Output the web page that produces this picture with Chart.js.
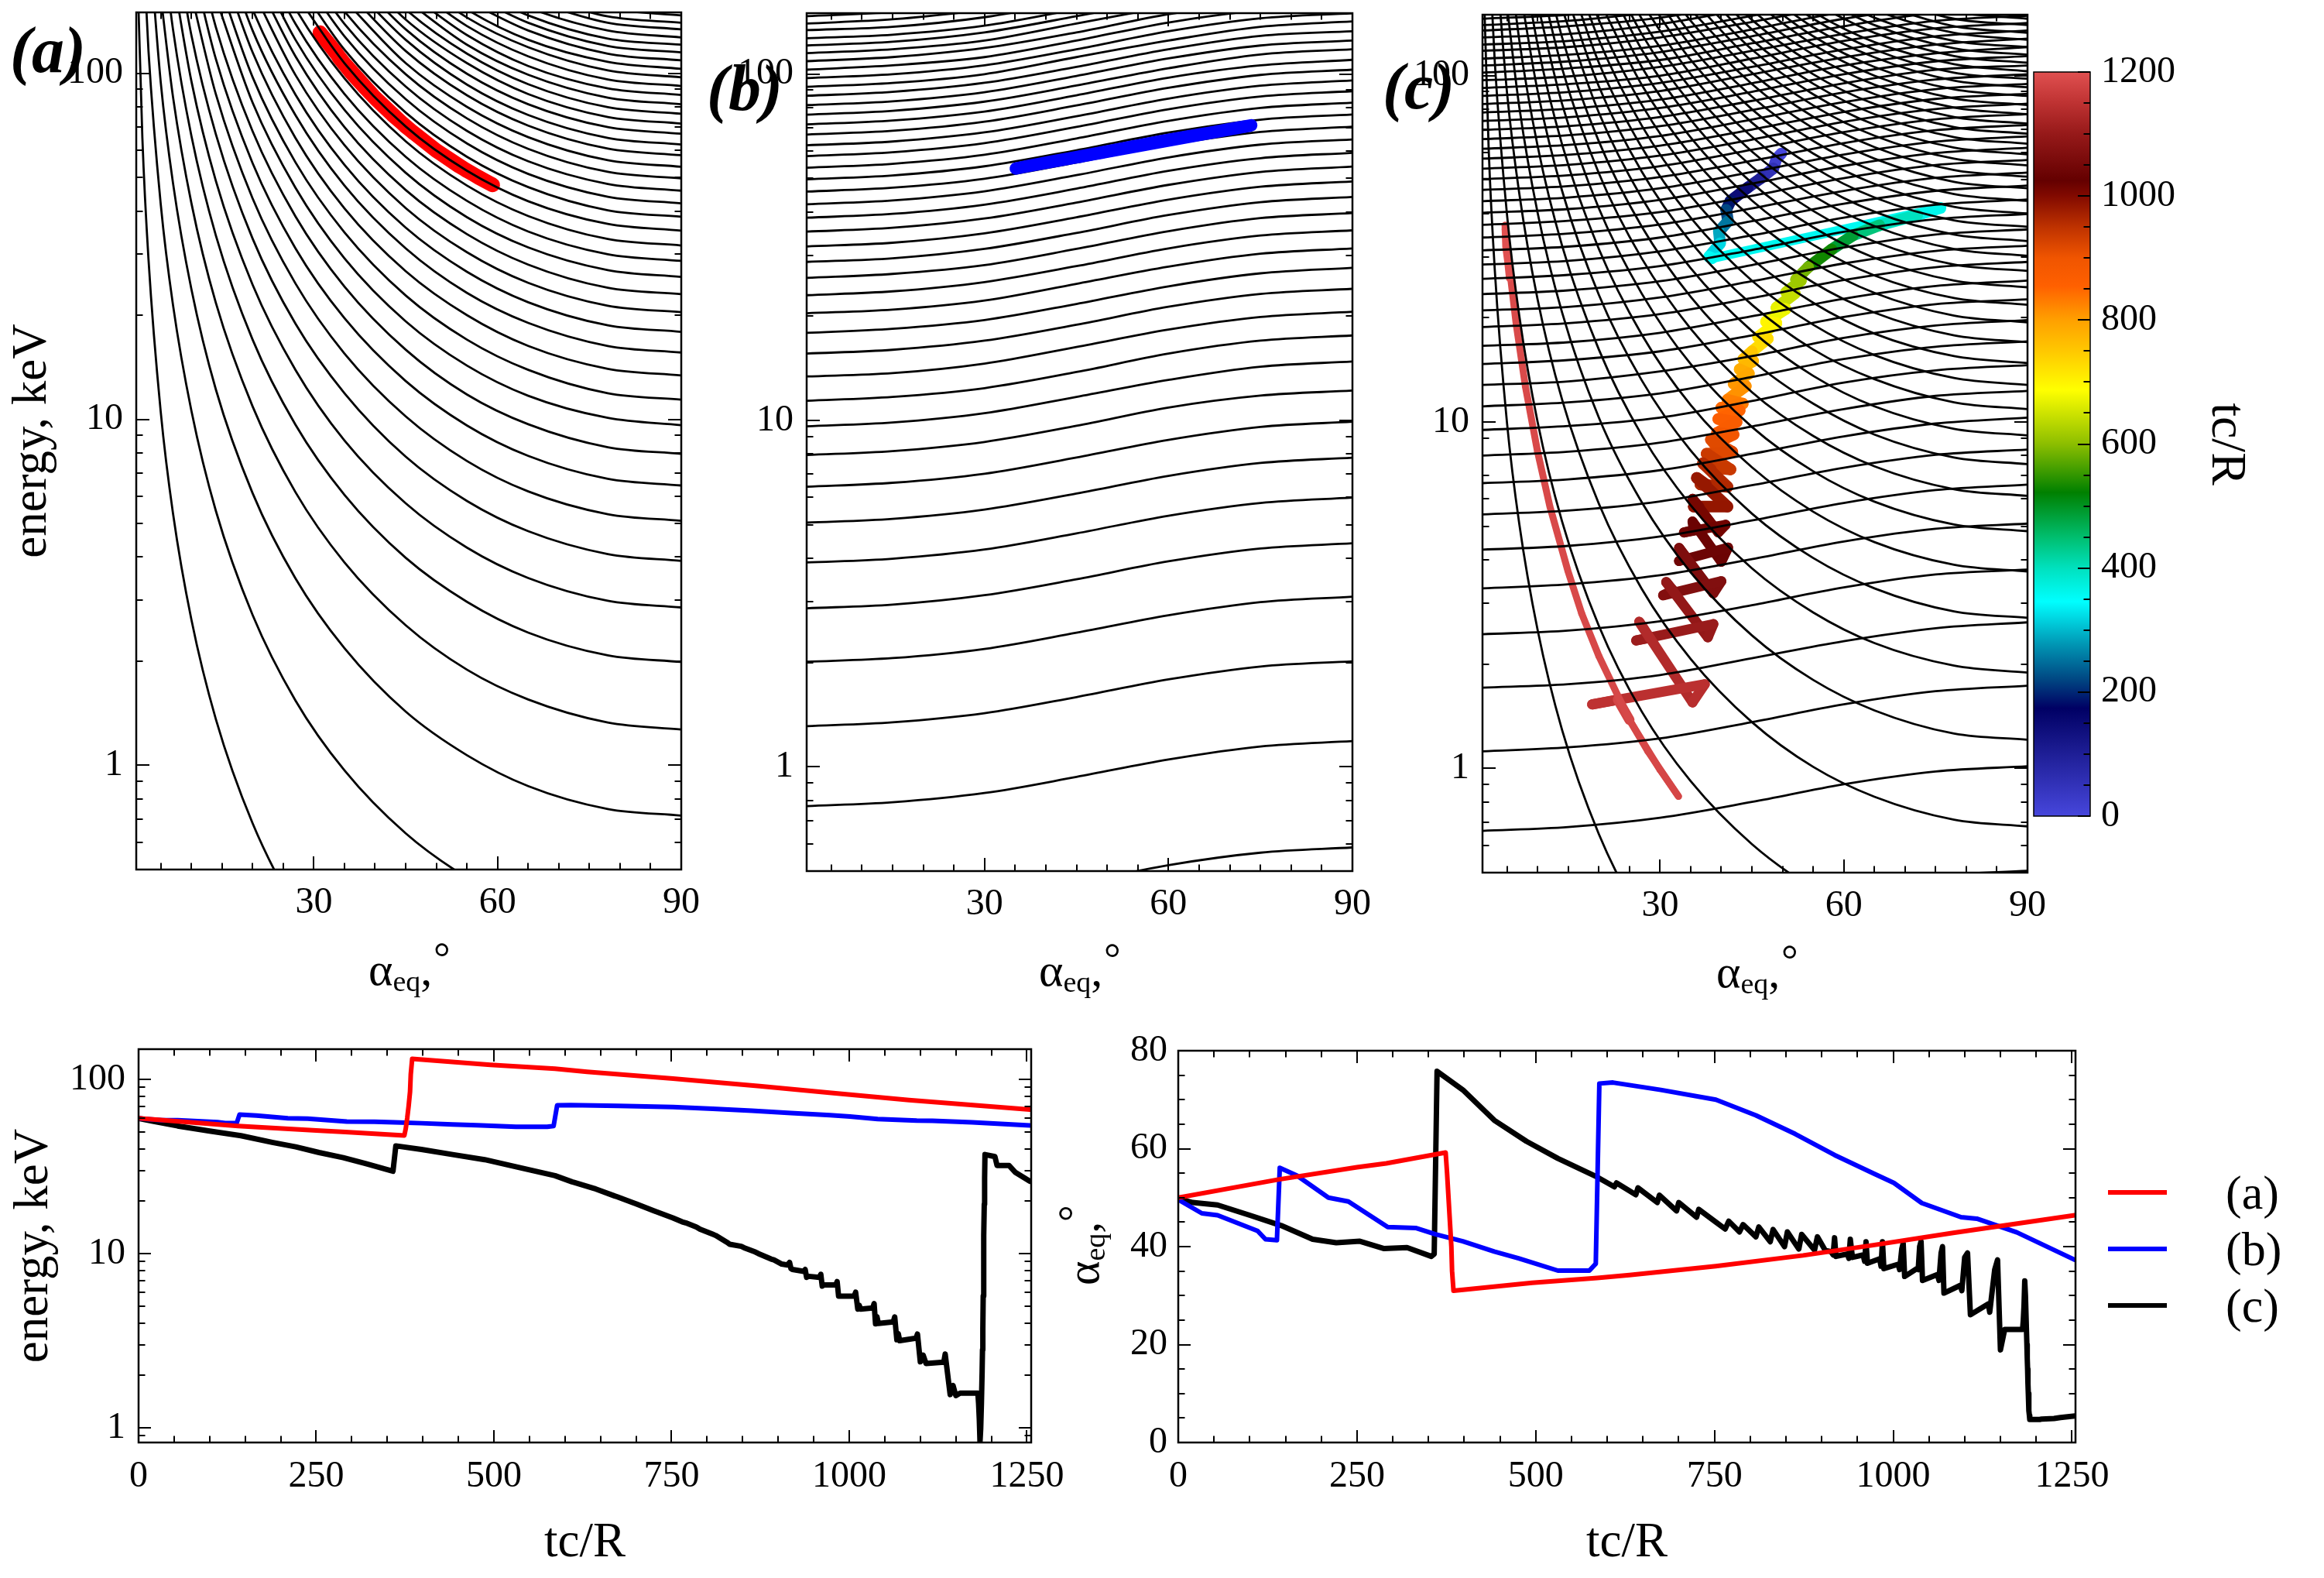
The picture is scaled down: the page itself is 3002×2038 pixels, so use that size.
<!DOCTYPE html>
<html>
<head>
<meta charset="utf-8">
<title>energy and pitch angle</title>
<script src="https://cdn.jsdelivr.net/npm/chart.js@4/dist/chart.umd.min.js"></script>
<style>
body { margin: 0; background: #fff; }
#page { position: relative; width: 3002px; height: 2038px; overflow: hidden; }
canvas { position: absolute; }
.t { position: absolute; font-family: "Liberation Serif"; line-height: 1; white-space: nowrap; color: #000; }
.panel { font: italic bold 84px/1 "Liberation Serif"; }
.al { font-size: 60px; }
.al .eq { font-size: 38px; position: relative; top: 8px; }
.al .ring { position: absolute; font-size: 54px; }
.leg { font-size: 62px; }
.swatch { position: absolute; width: 76px; height: 6px; }
</style>
</head>
<body>
<div id="page">
  <canvas id="panelA" width="905" height="1300" style="left:0;top:0"></canvas>
  <canvas id="panelB" width="875" height="1300" style="left:905px;top:0"></canvas>
  <canvas id="panelC" width="860" height="1300" style="left:1790px;top:0"></canvas>
  <canvas id="colorBar" width="320" height="1100" style="left:2600px;top:0"></canvas>
  <canvas id="panelE" width="1380" height="738" style="left:0;top:1300px"></canvas>
  <canvas id="panelP" width="1400" height="738" style="left:1380px;top:1300px"></canvas>

  <div class="t panel" style="left:13px;top:23px">(a)</div>
  <div class="t panel" style="left:913px;top:72px">(b)</div>
  <div class="t panel" style="left:1786px;top:70px">(c)</div>

  <div class="t al" style="left:476px;top:1222px">α<span class="eq">eq</span>,<span class="ring" style="left:84px;top:-12px">°</span></div>
  <div class="t al" style="left:1342px;top:1223px">α<span class="eq">eq</span>,<span class="ring" style="left:84px;top:-12px">°</span></div>
  <div class="t al" style="left:2217px;top:1225px">α<span class="eq">eq</span>,<span class="ring" style="left:84px;top:-12px">°</span></div>
  <div class="t al" style="left:1369px;top:1660px;transform:rotate(-90deg);transform-origin:left top">α<span class="eq">eq</span>,<span class="ring" style="left:82px;top:-9px">°</span></div>

  <div class="swatch" style="left:2723px;top:1537px;background:#f00"></div>
  <div class="swatch" style="left:2723px;top:1610px;background:#00f"></div>
  <div class="swatch" style="left:2723px;top:1683px;background:#000"></div>
  <div class="t leg" style="left:2875px;top:1509px">(a)</div>
  <div class="t leg" style="left:2875px;top:1582px">(b)</div>
  <div class="t leg" style="left:2875px;top:1655px">(c)</div>
</div>

<script>
// falling contours of (a), energy in keV, each row read from 90 deg leftward along fallAlpha
const fallAlpha = [90, 78, 65, 55, 45, 35, 27, 20, 14, 10, 7, 5, 3, 2, 1];
const curvesA = [
  [.0795,.083,.097,.118,.159,.242,.386,.68,1.36,2.64,5.35,10.5,29,65,261],
  [.318,.332,.387,.474,.636,.967,1.54,2.72,5.44,10.6,21.4,41.8,116,261],
  [.716,.748,.871,1.07,1.43,2.18,3.47,6.12,12.2,23.8,48.2,94.2,261],
  [1.27,1.33,1.55,1.89,2.54,3.86,6.16,10.9,21.7,42.2,85.5,167],
  [1.99,2.08,2.42,2.97,3.98,6.05,9.65,17,34,66,134,262],
  [2.86,2.99,3.48,4.26,5.72,8.69,13.9,24.5,48.9,95,192],
  [3.9,4.08,4.75,5.81,7.8,11.9,18.9,33.3,66.7,129,262],
  [5.09,5.32,6.19,7.58,10.2,15.5,24.7,43.5,87,169],
  [6.44,6.73,7.84,9.6,12.9,19.6,31.2,55,110,214],
  [7.95,8.31,9.68,11.8,15.9,24.2,38.6,68,136,264],
  [9.62,10.1,11.7,14.3,19.2,29.2,46.7,82.3,165],
  [11.4,11.9,13.9,17,22.8,34.7,55.3,97.5,195],
  [13.4,14,16.3,20,26.8,40.7,65,115,229],
  [15.6,16.3,19,23.2,31.2,47.4,75.7,133,267],
  [17.9,18.7,21.8,26.7,35.8,54.4,86.8,153,306],
  [20.4,21.3,24.8,30.4,40.8,62,98.9,174],
  [23,24,28,34.3,46,69.9,112,197],
  [25.8,27,31.4,38.4,51.6,78.4,125,221],
  [28.7,30,34.9,42.8,57.4,87.2,139,245],
  [31.8,33.2,38.7,47.4,63.6,96.7,154,272],
  [35.1,36.7,42.7,52.3,70.2,107,170],
  [38.5,40.2,46.9,57.4,77,117,187],
  [42.1,44,51.2,62.7,84.2,128,204],
  [45.8,47.9,55.7,68.2,91.6,139,222],
  [49.7,51.9,60.5,74.1,99.4,151,241],
  [53.7,56.1,65.4,80,107,163],
  [58,60.6,70.6,86.4,116,176],
  [62.3,65.1,75.8,92.8,125,189],
  [66.9,69.9,81.4,99.7,134,203],
  [71.6,74.8,87.1,107,143,218],
  [76.4,79.8,93,114,153,232],
  [81.4,85.1,99.1,121,163],
  [86.6,90.5,105,129,173],
  [91.9,96,112,137,184],
  [97.4,102,119,145,195],
  [103,108,125,153,206],
  [109,114,133,162],
  [115,120,140,171],
  [121,126,147,180],
  [127,133,155,189],
  [134,140,163],
  [140,146,170],
  [147,154,179]
];

// rising contours of (b), each row read from the left edge along riseAlpha
const riseAlpha = [1, 15, 30, 45, 60, 75, 90];
const curvesB = [
  [.38,.39,.41,.46,.52,.565,.585],
  [.77,.79,.84,.935,1.05,1.145,1.186],
  [1.31,1.344,1.428,1.59,1.788,1.948,2.017],
  [2.01,2.06,2.19,2.44,2.74,2.99,3.1],
  [2.87,2.94,3.13,3.48,3.92,4.27,4.42],
  [3.89,3.99,4.24,4.72,5.31,5.78,5.99],
  [5.07,5.2,5.53,6.15,6.92,7.54,7.81],
  [6.44,6.61,7.02,7.82,8.79,9.58,9.92],
  [7.95,8.16,8.67,9.65,10.9,11.8,12.2],
  [9.62,9.87,10.5,11.7,13.1,14.3,14.8],
  [11.4,11.7,12.4,13.8,15.6,17,17.6],
  [13.4,13.7,14.6,16.3,18.3,19.9,20.6],
  [15.6,16,17,18.9,21.3,23.2,24],
  [17.9,18.4,19.5,21.7,24.4,26.6,27.6],
  [20.4,20.9,22.2,24.8,27.8,30.3,31.4],
  [23,23.6,25.1,27.9,31.4,34.2,35.4],
  [25.8,26.5,28.1,31.3,35.2,38.4,39.7],
  [28.7,29.4,31.3,34.8,39.2,42.7,44.2],
  [31.8,32.6,34.7,38.6,43.4,47.3,49],
  [35.1,36,38.3,42.6,47.9,52.2,54.1],
  [38.5,39.5,42,46.7,52.6,57.2,59.3],
  [42.1,43.2,45.9,51.1,57.5,62.6,64.8],
  [45.8,47,49.9,55.6,62.5,68.1,70.5],
  [49.7,51,54.2,60.3,67.8,73.9,76.5],
  [53.7,55.1,58.5,65.2,73.3,79.9,82.7],
  [58,59.5,63.2,70.4,79.2,86.2,89.3],
  [62.3,63.9,67.9,75.6,85,92.6,95.9],
  [66.9,68.6,72.9,81.2,91.3,99.5,103],
  [71.6,73.5,78,86.9,97.7,106,110],
  [76.4,78.4,83.3,92.7,104,114,118],
  [81.4,83.5,88.7,98.8,111,121,125],
  [86.6,88.9,94.4,105,118,129,133],
  [91.9,94.3,100,112,125,137,142],
  [97.4,99.9,106,118,133,145,150],
  [103,106,112,125,141,153,159],
  [109,112,119,132,149,162],
  [115,118,125,140,157],
  [121,124,132,147,165],
  [127,130,138,154],
  [134,137,146,163],
  [140,144,153],
  [147,151,160]
];

// (c) falling family, same columns as (a)
const curvesCFall = [
  [.0756,.079,.092,.113,.151,.23,.367,.646,1.29,2.51,5.09,9.95,27.6,62,248],
  [.302,.316,.368,.45,.604,.918,1.46,2.58,5.16,10,20.3,39.7,110,248],
  [.68,.711,.828,1.01,1.36,2.07,3.3,5.81,11.6,22.6,45.8,89.5,248],
  [1.21,1.26,1.47,1.8,2.42,3.68,5.87,10.3,20.7,40.2,81.4,159],
  [1.89,1.98,2.3,2.82,3.78,5.75,9.17,16.2,32.3,62.7,127,249],
  [2.72,2.84,3.31,4.05,5.44,8.27,13.2,23.3,46.5,90.3,183],
  [3.7,3.87,4.5,5.51,7.4,11.2,17.9,31.6,63.3,123,249],
  [4.84,5.06,5.89,7.21,9.68,14.7,23.5,41.4,82.8,161],
  [6.12,6.4,7.45,9.12,12.2,18.6,29.7,52.3,105,203],
  [7.56,7.9,9.2,11.3,15.1,23,36.7,64.6,129,251],
  [9.15,9.56,11.1,13.6,18.3,27.8,44.4,78.2,156],
  [10.9,11.4,13.3,16.2,21.8,33.1,52.9,93.2,186],
  [12.8,13.4,15.6,19.1,25.6,38.9,62.1,109,219],
  [14.8,15.5,18,22.1,29.6,45,71.8,127,253],
  [17,17.8,20.7,25.3,34,51.7,82.5,145,291],
  [19.4,20.3,23.6,28.9,38.8,59,94.1,166],
  [21.8,22.8,26.5,32.5,43.6,66.3,106,186],
  [24.5,25.6,29.8,36.5,49,74.5,119,209],
  [27.3,28.5,33.2,40.7,54.6,83,132,233],
  [30.2,31.6,36.8,45,60.4,91.8,146,258],
  [33.3,34.8,40.5,49.6,66.6,101,162],
  [36.6,38.2,44.5,54.5,73.2,111,178],
  [40,41.8,48.7,59.6,80,122,194],
  [43.5,45.5,52.9,64.8,87,132,211],
  [47.3,49.4,57.6,70.5,94.6,144,229],
  [51.1,53.4,62.2,76.1,102,155],
  [55.1,57.6,67.1,82.1,110,168],
  [59.3,62,72.2,88.4,119,180],
  [63.6,66.5,77.4,94.8,127,193],
  [68,71.1,82.8,101,136,207],
  [72.7,76,88.5,108,145,221],
  [77.4,80.9,94.2,115,155,235],
  [82.3,86,100,123,165],
  [87.4,91.3,106,130,175],
  [92.6,96.8,113,138,185],
  [98,102,119,146,196],
  [103,108,125,153,206],
  [109,114,133,162],
  [115,120,140,171],
  [121,126,147,180],
  [127,133,155,189],
  [133,139,162],
  [140,146,170],
  [146,153,178]
];

// (c) rising family, same columns as (b)
const curvesCRise = [
  [.33,.339,.36,.4,.45,.49,.506],
  [.66,.677,.72,.8,.9,.98,1.014],
  [1.12,1.15,1.22,1.36,1.53,1.67,1.733],
  [1.71,1.75,1.86,2.08,2.33,2.54,2.64],
  [2.44,2.5,2.66,2.96,3.33,3.63,3.75],
  [3.31,3.4,3.61,4.02,4.52,4.92,5.09],
  [4.28,4.39,4.67,5.2,5.84,6.36,6.6],
  [5.41,5.55,5.9,6.57,7.38,8.04,8.33],
  [6.66,6.83,7.26,8.09,9.09,9.9,10.3],
  [8,8.21,8.72,9.71,10.9,11.9,12.3],
  [9.49,9.74,10.3,11.5,13,14.1,14.6],
  [11.1,11.4,12.1,13.5,15.2,16.5,17.1],
  [12.8,13.1,14,15.5,17.5,19,19.7],
  [14.7,15.1,16,17.8,20.1,21.9,22.6],
  [16.6,17,18.1,20.2,22.7,24.7,25.6],
  [18.8,19.3,20.5,22.8,25.7,28,29],
  [21,21.5,22.9,25.5,28.7,31.2,32.3],
  [23.4,24,25.5,28.4,31.9,34.8,36],
  [25.9,26.6,28.2,31.4,35.4,38.5,39.9],
  [28.5,29.2,31.1,34.6,38.9,42.4,43.9],
  [31.3,32.1,34.1,38,42.7,46.5,48.2],
  [34.1,35,37.2,41.4,46.5,50.7,52.5],
  [37.1,38.1,40.4,45,50.6,55.2,57.1],
  [40.2,41.2,43.8,48.8,54.9,59.8,61.9],
  [43.4,44.5,47.3,52.7,59.2,64.5,66.8],
  [46.8,48,51,56.8,63.9,69.6,72.1],
  [50.3,51.6,54.8,61.1,68.7,74.8,77.5],
  [53.9,55.3,58.8,65.4,73.6,80.1,83],
  [57.6,59.1,62.8,69.9,78.6,85.7,88.7],
  [61.5,63.1,67,74.7,83.9,91.5,94.7],
  [65.6,67.3,71.5,79.6,89.5,97.5,101],
  [69.7,71.5,76,84.6,95.1,104,107],
  [74,75.9,80.7,89.8,101,110,114],
  [78.3,80.3,85.3,95.1,107,116,121],
  [82.8,85,90.3,101,113,123,128],
  [87.4,89.7,95.3,106,119,130,135],
  [92.2,94.6,100,112,126,137,142],
  [97,99.5,106,118,132,144,149],
  [102,105,111,124,139,152,157],
  [107,110,117,130,146,159],
  [112,115,122,136,153,167],
  [118,121,129,143,161],
  [123,126,134,149,168],
  [129,132,141,157],
  [135,139,147,164],
  [140,144,153],
  [146,150,159],
  [153,157,167]
];

// trajectory (a): time, energy keV, alpha deg
const redT = [0,140,250,291,374,376,378,380,382,383,385,495,586,631,752,874,972,1084,1254];
const redE = [59.8,54,50.9,49.9,47.6,52.3,59.8,70.2,85,106.7,131,121,115,110.5,101,91.5,83.7,76,67];
const redA = [50,53.7,56.2,57,59.2,55,50,45,40,35,31,32.6,33.6,34.2,36,38.2,40.3,42.8,46.4];

// trajectory (b)
const blueT = [0,33,55,111,122,138,142,166,210,238,293,332,360,398,442,476,531,575,584,589,608,675,752,808,863,918,973,1001,1040,1095,1117,1173,1254];
const blueE = [59.6,58.3,58.2,56.8,56.1,56,62.7,62,59.8,59.4,57.2,57.1,56.6,56,55.1,54.5,53.4,53.4,54,71,71.2,70.4,69.4,67.8,66,64,62.2,61.2,59.2,58,57.8,56.7,54.4];
const blueA = [49.6,46.8,46.4,43.2,41.5,41.3,56.1,54.5,50,49.2,44,43.8,42.5,41.1,39,37.6,35.1,35.1,36.5,73.3,73.5,72,70,66.8,63,58.7,54.9,53,48.9,46,45.7,42.9,37.3];

// trajectory (c)
const blackT = [0,20,55,100,144,188,221,254,288,320,354,358,362,398,442,487,531,586,
  610,613,640,643,670,673,697,700,725,728,752,
  765,770,785,790,808,812,828,832,848,852,868,872,890,894,905,913,916,918,920,936,938,940,943,958,960,962,964,981,983,985,987,1007,1009,1012,1014,1016,1033,1035,1037,1039,1041,1062,1064,1067,1069,1071,1094,1096,1100,1104,1108,1133,1135,1142,1146,1150,1156,1181,
  1182,1183,1184,1185,1186,1187,1187.5,1188,1188.5,1189,1189.5,1190,1190.5,1191,1205,1208,1225,1234,1254];
const blackE = [59.6,57.5,54,50.5,47.5,43.5,41,38,35.5,32.8,30,29.7,41.5,39.6,37,34.6,31.5,28,
  25.8,25.6,23.7,23.5,21.4,21.2,19.5,19.3,17.6,17.4,16,
  15.2,15,14.2,13.8,12.9,12.7,11.6,11.3,11,10.8,10.2,10,9.3,9.2,8.7,8.6,8.9,8.2,8.1,7.9,8.1,7.3,7.4,7.3,7.6,6.5,6.6,6.6,6.9,5.7,5.7,5.7,6,4.8,5.05,4.8,4.87,5.16,3.95,4.34,3.97,4.05,4.33,3.2,3.47,3.16,3.27,3.45,2.39,2.61,2.34,2.38,2.65,1.55,1.75,1.53,1.58,1.58,
  1.38,1.12,.83,.99,1.38,2.11,2.8,3.69,5.71,8.2,12.7,19.2,27,37,36,32,32,29.2,26];
const blackA = [49.8,49,48.5,46.4,44.3,41.5,40.8,41.1,39.6,39.8,38,38.5,75.8,72,65.8,61.5,58,54.2,
  52.2,53,50.6,52,49,50.5,47.3,49,46,47.6,45,
  43.6,45.2,43,44.5,42,44,41,43.5,40,43,39.5,42.5,39.3,42,39.2,39,38.3,41.8,38,38.5,37.6,41.5,37.8,38.3,37,41,36.6,37.5,36,41,35.5,36.4,35.3,39.5,40.7,33.9,35.5,35.3,40,41.1,33.1,34.3,33.1,38.7,40,30.5,32.1,31,37.8,38.7,26.1,28.3,26.6,35.3,37.3,18.9,23.1,23.1,
  25,28,33,30,25,20,17.2,15,12,10,8,6.5,5.5,4.7,4.7,4.8,4.9,5.1,5.4];

// colour bar knots: tc/R value and colour
const cbValues = [0,100,174,220,277,346,400,450,522,600,687,750,800,855,900,950,1000,1025,1100,1150,1200];
const cbColors = [[70,70,220],[30,30,150],[0,0,100],[0,70,130],[0,150,180],[0,255,255],[0,225,190],[0,190,110],[0,128,0],[140,190,0],[255,255,0],[255,200,0],[255,160,0],[255,96,0],[240,85,0],[190,50,0],[130,10,0],[100,0,0],[150,25,25],[190,50,50],[224,80,80]];

// tick labels and tick marks
const alphaMajor = [30,60,90];
const alphaMinor = [5,10,15,20,25,35,40,45,50,55,65,70,75,80,85];
const energyMajor = [1,10,100];
const energyMinor = [.6,.7,.8,.9,2,3,4,5,6,7,8,9,20,30,40,50,60,70,80,90];
const timeMajor = [0,250,500,750,1000,1250];
const timeMinor = [50,100,150,200,300,350,400,450,550,600,650,700,800,850,900,950,1050,1100,1150,1200];
const pitchMajor = [0,20,40,60,80];
const pitchMinor = [5,10,15,25,30,35,45,50,55,65,70,75];
const barMajor = [0,200,400,600,800,1000,1200];
const barMinor = [50,100,150,250,300,350,450,500,550,650,700,750,850,900,950,1050,1100,1150];

const serif = 'Liberation Serif';

function cmap(v) {
  let i = 0;
  while (i < cbValues.length - 2 && v > cbValues[i + 1]) i++;
  const f = Math.min(1, (v - cbValues[i]) / (cbValues[i + 1] - cbValues[i]));
  const c = cbColors[i].map((a, k) => Math.round(a + (cbColors[i + 1][k] - a) * f));
  return `rgb(${c[0]},${c[1]},${c[2]})`;
}

function insideTicks(t) {
  return {
    id: 'insideTicks',
    afterDraw(chart) {
      const { ctx, chartArea: a, scales } = chart;
      const lenA = t.major || 17, lenB = t.minor || 8.5;
      ctx.save();
      ctx.strokeStyle = '#000';
      ctx.lineWidth = 2;
      const yTick = (v, len) => {
        if (v < scales.y.min || v > scales.y.max) return;
        const p = Math.round(scales.y.getPixelForValue(v));
        ctx.beginPath();
        if (!t.rightOnly) { ctx.moveTo(a.left, p); ctx.lineTo(a.left + len, p); }
        ctx.moveTo(a.right, p); ctx.lineTo(a.right - len, p);
        ctx.stroke();
      };
      (t.yMajor || []).forEach(v => yTick(v, lenA));
      (t.yMinor || []).forEach(v => yTick(v, lenB));
      const xTick = (v, len) => {
        const p = Math.round(scales.x.getPixelForValue(v));
        ctx.beginPath();
        ctx.moveTo(p, a.bottom); ctx.lineTo(p, a.bottom - len);
        ctx.moveTo(p, a.top); ctx.lineTo(p, a.top + len);
        ctx.stroke();
      };
      (t.xMajor || []).forEach(v => xTick(v, lenA));
      (t.xMinor || []).forEach(v => xTick(v, lenB));
      ctx.lineWidth = t.frame || 2.5;
      ctx.strokeRect(a.left, a.top, a.right - a.left, a.bottom - a.top);
      ctx.restore();
    }
  };
}

function pts(xs, ys) {
  return ys.map((y, i) => ({ x: xs[i], y }));
}

function contour(cols, row) {
  return {
    data: pts(cols, row).sort((p, q) => p.x - q.x),
    borderColor: '#000', borderWidth: 2.8, pointRadius: 0,
    cubicInterpolationMode: 'monotone', order: 0
  };
}

function trace(xs, ys, color, width, order) {
  return {
    data: pts(xs, ys), borderColor: color, borderWidth: width, pointRadius: 0,
    borderCapStyle: 'round', borderJoinStyle: 'round', order
  };
}

function axisX(box, area, min, max, labels, padding, title) {
  return {
    type: 'linear', min, max,
    grid: { display: false, drawTicks: false }, border: { display: false },
    afterBuildTicks: s => { s.ticks = labels.map(value => ({ value })); },
    afterFit: s => {
      s.height = box.h - area.b;
      s.paddingLeft = s.paddingRight = 0;
    },
    ticks: { autoSkip: false, maxRotation: 0, padding, color: '#000', font: { family: serif, size: 48 }, callback: v => v },
    title: title ? { display: true, text: title, color: '#000', font: { family: serif, size: 63 }, padding: { top: 0, bottom: 7 } } : { display: false }
  };
}

function axisY(type, box, area, min, max, labels, padding, title, titlePad) {
  return {
    type, min, max,
    grid: { display: false, drawTicks: false }, border: { display: false },
    afterBuildTicks: s => { s.ticks = labels.map(value => ({ value })); },
    afterFit: s => {
      s.width = area.l;
      s.paddingTop = s.paddingBottom = 0;
    },
    ticks: { autoSkip: false, padding, color: '#000', font: { family: serif, size: 48 }, callback: v => v },
    title: title ? { display: true, text: title, color: '#000', font: { family: serif, size: 63 }, padding: { top: titlePad, bottom: 0 } } : { display: false }
  };
}

function panel(id, box, area, x, y, datasets, ticks) {
  return new Chart(document.getElementById(id), {
    type: 'line',
    data: { datasets },
    options: {
      responsive: false, animation: false, devicePixelRatio: 1,
      layout: { padding: { top: area.t, right: box.w - area.r, left: 0, bottom: 0 } },
      plugins: { legend: { display: false }, tooltip: { enabled: false } },
      elements: { line: { tension: 0 } },
      scales: { x, y }
    },
    plugins: [insideTicks(ticks)]
  });
}

const topTicks = { xMajor: alphaMajor, xMinor: alphaMinor, yMajor: energyMajor, yMinor: energyMinor };
const bottomEnergyTicks = { xMajor: timeMajor, xMinor: timeMinor, yMajor: energyMajor, yMinor: energyMinor, major: 16 };
const bottomPitchTicks = { xMajor: timeMajor, xMinor: timeMinor, yMajor: pitchMajor, yMinor: pitchMinor, major: 16 };

// panel a
{
  const box = { w: 905, h: 1300 }, area = { l: 176, r: 880, t: 16, b: 1123 };
  panel('panelA', box, area,
    axisX(box, area, 1, 90, alphaMajor, 15),
    axisY('logarithmic', box, area, .5, 150, energyMajor, 17, 'energy, keV', 5),
    [...curvesA.map(r => contour(fallAlpha, r)), trace(redA, redE, '#f00', 19, 1)],
    topTicks);
}

// panel b
{
  const box = { w: 875, h: 1300 }, area = { l: 137, r: 842, t: 17, b: 1125 };
  panel('panelB', box, area,
    axisX(box, area, 1, 90, alphaMajor, 15),
    axisY('logarithmic', box, area, .5, 150, energyMajor, 17),
    [...curvesB.map(r => contour(riseAlpha, r)), trace(blueA, blueE, '#00f', 16, -1)],
    topTicks);
}

// panel c
{
  const box = { w: 860, h: 1300 }, area = { l: 125, r: 829, t: 19, b: 1127 };
  const path = trace(blackA, blackE, '#000', 15, 1);
  path.segment = {
    borderColor: c => cmap(blackT[c.p0DataIndex]),
    borderWidth: c => {
      const t = blackT[c.p0DataIndex];
      if (t >= 1182) return 9;
      if (t >= 1000) return 13;
      if (t >= 358 && t < 362) return 12;
      return 15;
    }
  };
  panel('panelC', box, area,
    axisX(box, area, 1, 90, alphaMajor, 15),
    axisY('logarithmic', box, area, .5, 150, energyMajor, 17),
    [...curvesCFall.map(r => contour(fallAlpha, r)), ...curvesCRise.map(r => contour(riseAlpha, r)), path],
    topTicks);
}

// colour bar
new Chart(document.getElementById('colorBar'), {
  type: 'bar',
  data: {
    labels: ['tc/R'],
    datasets: [{
      data: [[0, 1200]], barPercentage: 1, categoryPercentage: 1,
      backgroundColor: c => {
        const a = c.chart.chartArea;
        if (!a) return '#fff';
        const g = c.chart.ctx.createLinearGradient(0, a.bottom, 0, a.top);
        cbValues.forEach(v => g.addColorStop(v / 1200, cmap(v)));
        return g;
      }
    }]
  },
  options: {
    responsive: false, animation: false, devicePixelRatio: 1,
    layout: { padding: { top: 93, left: 27, bottom: 46, right: 0 } },
    plugins: { legend: { display: false }, tooltip: { enabled: false } },
    scales: {
      x: { display: false },
      y: {
        position: 'right', min: 0, max: 1200,
        grid: { display: false, drawTicks: false }, border: { display: false },
        afterBuildTicks: s => { s.ticks = barMajor.map(value => ({ value })); },
        afterFit: s => { s.width = 220; s.paddingTop = s.paddingBottom = 0; },
        ticks: { autoSkip: false, padding: 14, color: '#000', font: { family: serif, size: 48 }, callback: v => v },
        title: { display: true, text: 'tc/R', color: '#000', font: { family: serif, size: 64 }, padding: { top: 7, bottom: 0 } }
      }
    }
  },
  plugins: [insideTicks({ yMajor: barMajor, yMinor: barMinor, rightOnly: true, major: 16, frame: 1.5 })]
});

// panel energy vs time
{
  const box = { w: 1380, h: 738 }, area = { l: 179, r: 1332, t: 55, b: 563 };
  panel('panelE', box, area,
    axisX(box, area, 0, 1256, timeMajor, 16, 'tc/R'),
    axisY('logarithmic', box, area, .823, 149, energyMajor, 17, 'energy, keV', 7),
    [trace(redT, redE, '#f00', 6, 0), trace(blueT, blueE, '#00f', 6, 1), trace(blackT, blackE, '#000', 7, 2)],
    bottomEnergyTicks);
}

// panel pitch angle vs time
{
  const box = { w: 1400, h: 738 }, area = { l: 142, r: 1301, t: 57, b: 563 };
  panel('panelP', box, area,
    axisX(box, area, 0, 1255, timeMajor, 16, 'tc/R'),
    axisY('linear', box, area, 0, 80, pitchMajor, 14),
    [trace(redT, redA, '#f00', 6, 0), trace(blueT, blueA, '#00f', 6, 1), trace(blackT, blackA, '#000', 7, 2)],
    bottomPitchTicks);
}
</script>
</body>
</html>
